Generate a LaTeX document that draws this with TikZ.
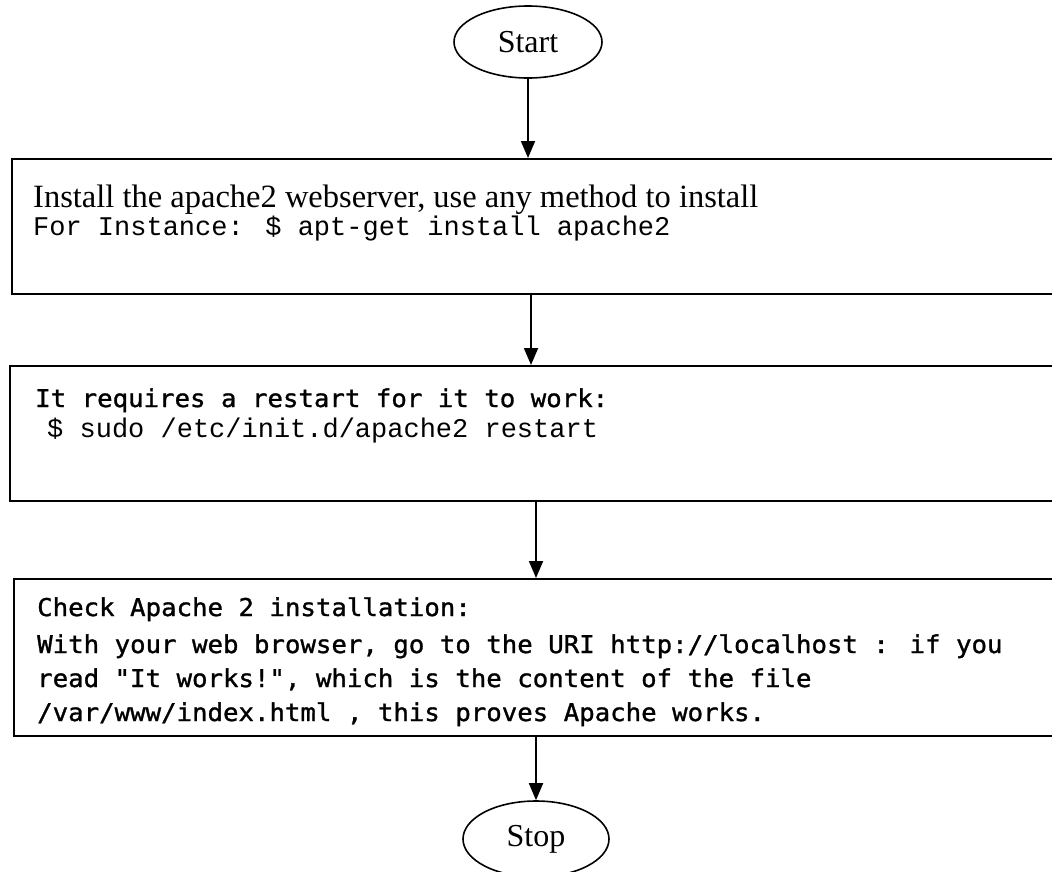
\documentclass[tikz,border=0pt]{standalone}
\usepackage{fontspec}
\usetikzlibrary{arrows.meta,shapes.geometric}
\newfontfamily\tnr{Liberation Serif}
\newfontfamily\cour{Liberation Mono}
\newfontfamily\cons[FakeStretch=1.05,FakeBold=1.2]{DejaVu Sans Mono}
\begin{document}
\begin{tikzpicture}[x=1pt,y=-1pt,
  box/.style={draw, line width=1.8pt, minimum width=1100pt, anchor=north west, inner sep=0pt},
  term/.style={draw, ellipse, line width=1.6pt, inner sep=0pt, font=\tnr\fontsize{32}{36}\selectfont},
  arr/.style={line width=1.8pt, -{Triangle[width=14pt,length=17pt]}},
  txt/.style={anchor=base west, inner sep=0pt},
  serif/.style={font=\tnr\fontsize{32.5}{36}\selectfont},
  courier/.style={font=\cour\fontsize{27}{30}\selectfont},
  consol/.style={font=\cons\fontsize{24.5}{28}\selectfont}
]
\fill[white] (0,0) rectangle (1052,871);
\useasboundingbox (0,0) rectangle (1052,871);
\clip (0,0) rectangle (1052,871);

\node[term, minimum width=148pt, minimum height=72pt] (start) at (528,42) {Start};
\node[box, minimum height=135pt] (b1) at (11,158) {};
\node[box, minimum height=135pt] (b2) at (9,365) {};
\node[box, minimum height=157pt] (b3) at (13,578) {};
\node[term, minimum width=146pt, minimum height=76pt] (stop) at (536,839) {Stop};

\node[txt, serif] (t1a) at (33,207) {Install the apache2 webserver, use any method to install};
\node[txt, courier] (t1b) at (33,235) {For Instance: \$ apt-get install apache2};

\node[txt, consol] (t2a) at (35,407) {It requires a restart for it to work:};
\node[txt, courier] (t2b) at (47,437) {\$ sudo /etc/init.d/apache2 restart};

\node[txt, consol] (t3a) at (37,616) {Check Apache 2 installation:};
\node[txt, consol] (t3b) at (37,653) {With your web browser, go to the URI http://localhost : if you};
\node[txt, consol] (t3c) at (37,687) {read "It works!", which is the content of the file};
\node[txt, consol] (t3d) at (37,721) {/var/www/index.html , this proves Apache works.};

\draw[arr] (start.south) -- (start.south |- b1.north);
\draw[arr] ([xshift=520pt]b1.south west) -- ([xshift=522pt]b2.north west);
\draw[arr] ([xshift=527pt]b2.south west) -- ([xshift=523pt]b3.north west);
\draw[arr] (stop.north |- b3.south) -- (stop.north);
\end{tikzpicture}
\end{document}
